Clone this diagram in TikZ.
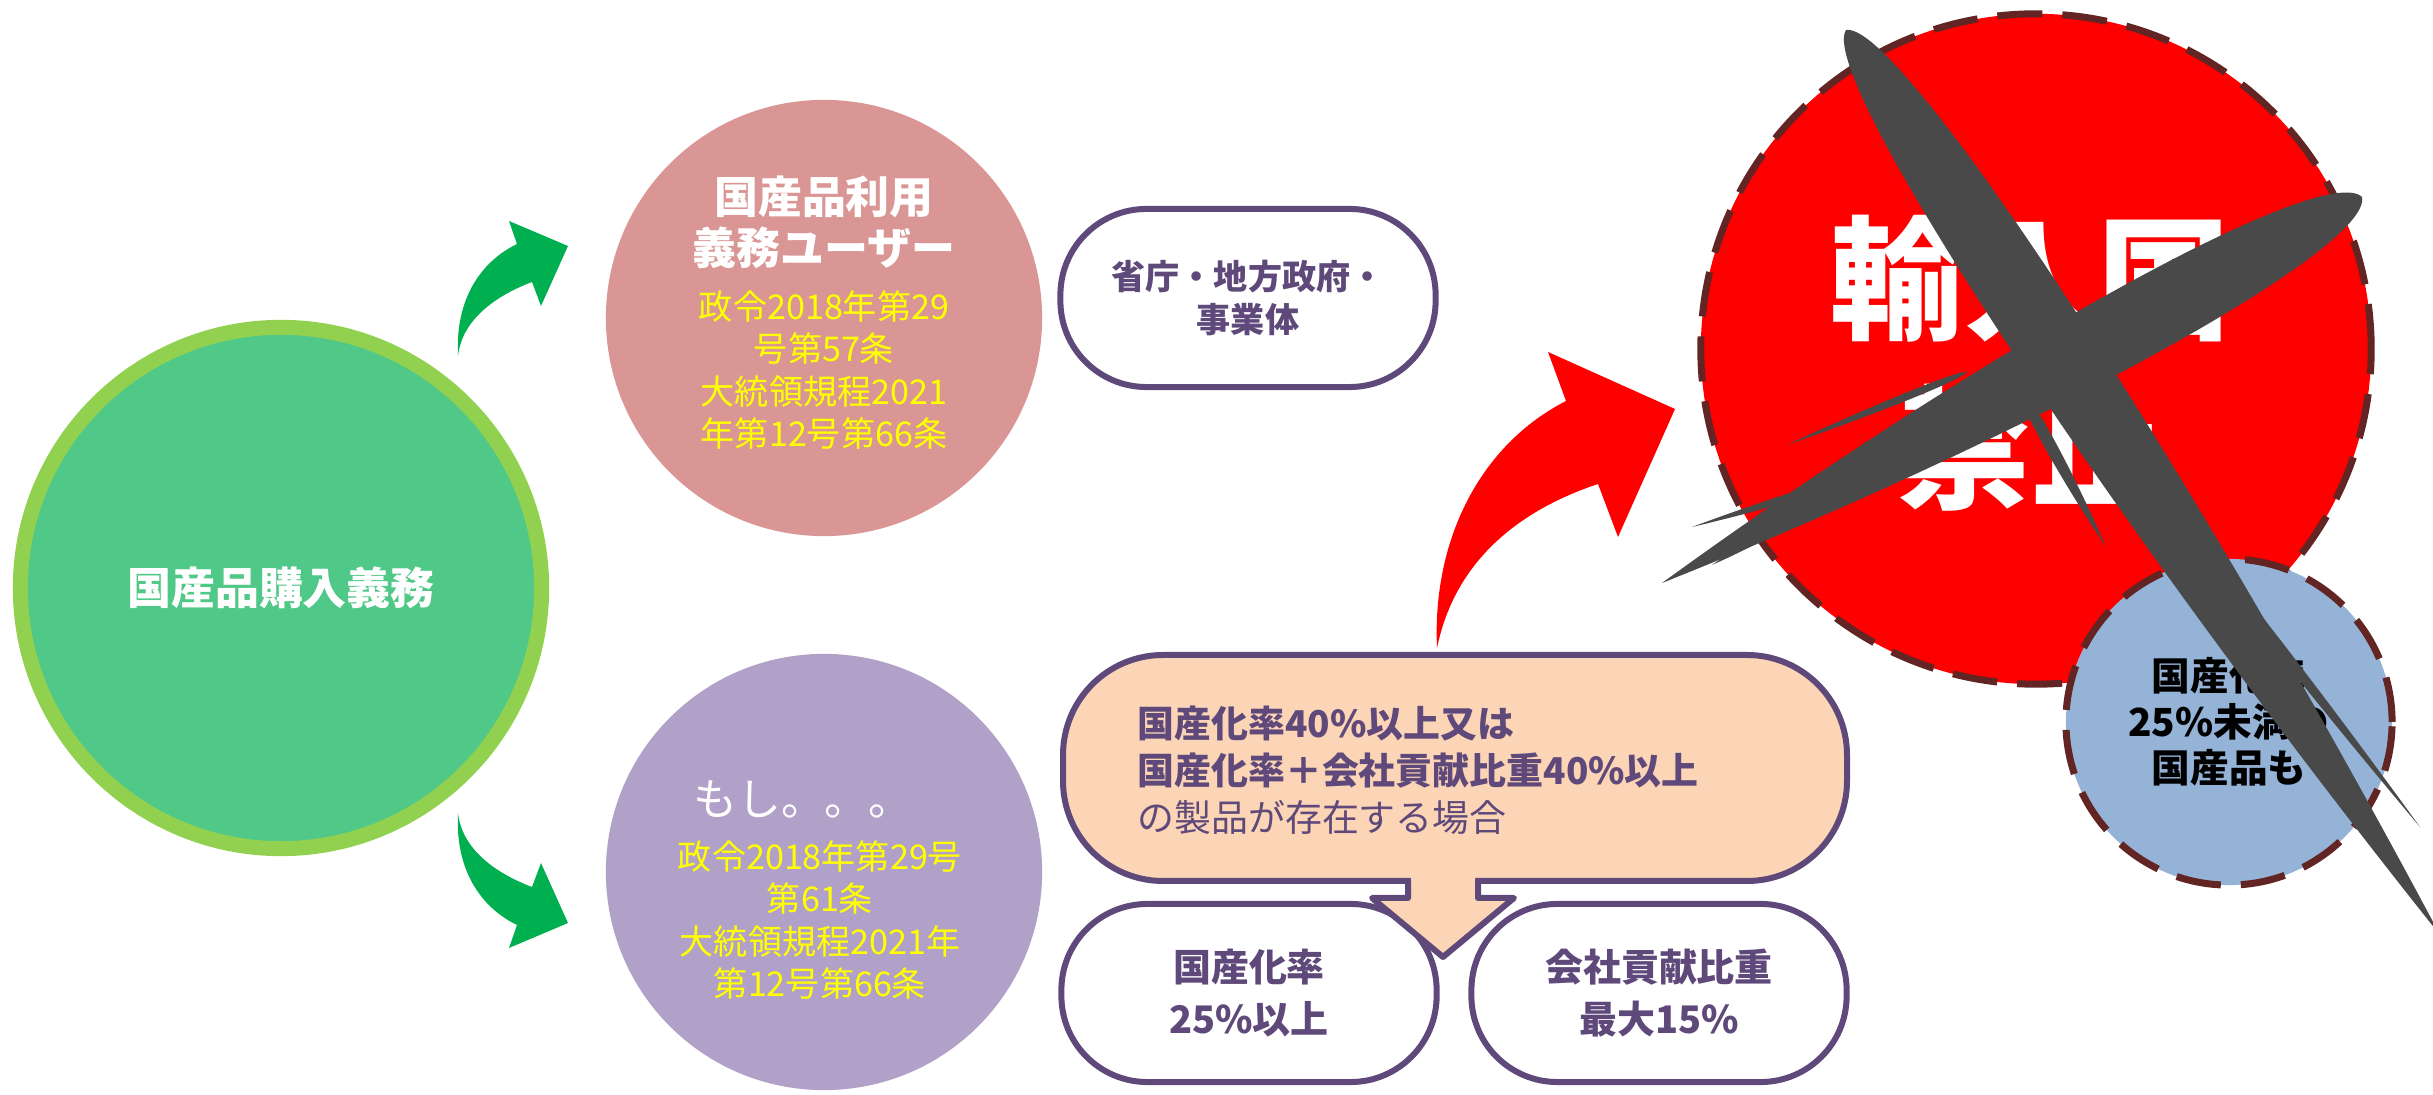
\documentclass[tikz,border=0pt]{standalone}
\usepackage{fontspec}
\setmainfont{Noto Sans CJK JP}
\usetikzlibrary{calc}
\definecolor{greenfill}{RGB}{80,200,135}
\definecolor{greenring}{RGB}{146,208,80}
\definecolor{greenarr}{RGB}{0,176,80}
\definecolor{pinkc}{RGB}{217,150,148}
\definecolor{purplec}{RGB}{177,160,199}
\definecolor{yel}{RGB}{255,255,0}
\definecolor{boxline}{RGB}{95,73,122}
\definecolor{peach}{RGB}{251,213,181}
\definecolor{redc}{RGB}{255,0,0}
\definecolor{darkred}{RGB}{99,37,35}
\definecolor{bluec}{RGB}{149,179,215}
\definecolor{xgray}{RGB}{73,73,73}
\begin{document}
\begin{tikzpicture}[x=0.01cm,y=-0.01cm,line join=round,line cap=round,
	circ/.style={circle,inner sep=0pt,minimum size=#1},
	ring/.style={circle,draw=darkred,line width=0.07cm,line cap=butt,dash pattern=on 0.45cm off 0.2cm,inner sep=0pt,minimum size=#1},
	pill/.style={draw=boxline,line width=0.06cm,fill=white,rounded corners=0.86cm,minimum width=3.75cm,minimum height=1.78cm,inner sep=0pt,text=boxline,align=center,font=\bfseries\fontsize{10.8}{14.8}\selectfont},
	ttl/.style={text=white,align=center,font=\bfseries\fontsize{12.5}{14.5}\selectfont},
	law/.style={text=yel,align=center,font=\fontsize{9.7}{12}\selectfont}]
	\def\brush#1#2#3{\fill[xgray] (#1) .. controls ($(#1)!0.02!(#2)!#3!90:(#2)$) and ($(#1)!0.5!(#2)!#3!90:(#2)$) .. (#2) .. controls ($(#1)!0.5!(#2)!#3!-90:(#2)$) and ($(#1)!0.02!(#2)!#3!-90:(#2)$) .. (#1) -- cycle;}
	\useasboundingbox (0,0) rectangle (2433,1095);
	\node[circ=5.21cm,fill=greenfill,draw=greenring,line width=0.15cm,ttl] (duty) at (281,588) {国産品購入義務};
	\fill[greenarr] (458,356) .. controls (455,300) and (480,262) .. (517,244) -- (509,221) -- (568,246) -- (541,306) -- (532,282) .. controls (495,296) and (462,320) .. (458,356) -- cycle;
	\fill[greenarr] (458,813) .. controls (455,869) and (480,907) .. (517,925) -- (509,948) -- (568,923) -- (541,863) -- (532,887) .. controls (495,873) and (462,849) .. (458,813) -- cycle;
	\node[circ=4.36cm,fill=pinkc] (user) at (824,318) {};
	\node[ttl] (userT) at (824,222) {国産品利用\\義務ユーザー};
	\node[law] (userL) at (824,370) {政令2018年第29\\号第57条\\大統領規程2021\\年第12号第66条};
	\node[circ=4.36cm,fill=purplec] (ifc) at (824,872) {};
	\node[text=white,font=\fontsize{12.5}{14.5}\selectfont] (ifT) at (803,799) {もし。。。};
	\node[law] (ifL) at (820,920) {政令2018年第29号\\第61条\\大統領規程2021年\\第12号第66条};
	\node[pill,font=\bfseries\fontsize{9.7}{12}\selectfont] (gov) at (1248,298) {省庁・地方政府・\\事業体};
	\node[pill] (rate) at (1249,993) {国産化率\\25\%以上};
	\node[pill] (share) at (1659,993) {会社貢献比重\\最大15\%};
	% callout
	\draw[boxline,line width=0.06cm,fill=peach,rounded corners=1cm] (1063,655) rectangle (1847,881);
	\fill[peach] (1411,875) -- (1475,875) -- (1475,898) -- (1510,898) -- (1443,954) -- (1376,898) -- (1411,898) -- cycle;
	\draw[boxline,line width=0.06cm,line cap=butt] (1408,881) -- (1408,898) -- (1372,898) -- (1443,957) -- (1514,898) -- (1478,898) -- (1478,881);
	\node[anchor=west,text=boxline,align=left,font=\fontsize{10.5}{13.4}\selectfont] (cond) at (1125,770) {\textbf{国産化率40\%以上又は}\\\textbf{国産化率＋会社貢献比重40\%以上}\\の製品が存在する場合};
	\fill[redc] (1437,648) .. controls (1432,540) and (1480,445) .. (1566,401) -- (1548,352) -- (1675,409) -- (1618,537) -- (1598,484) .. controls (1520,510) and (1455,560) .. (1437,648) -- cycle;
	\node[ring=6.70cm,fill=redc] (ban) at (2036,349) {};
	\node[text=white,align=center,font=\bfseries\fontsize{38}{48}\selectfont] (banT) at (2031,363) {輸入国\\禁止};
	\node[ring=3.26cm,fill=bluec,align=center,font=\bfseries\fontsize{11}{13}\selectfont] (low) at (2229,722) {国産化率\\25\%未満の\\国産品も};
	% cross
	\brush{1846,30}{2440,935}{0.5cm}
	\brush{2150,520}{2383,845}{0.07cm}
	\brush{2180,520}{2420,827}{0.07cm}
	\brush{2020,390}{2106,547}{0.08cm}
	\brush{2362,197}{1662,583}{0.5cm}
	\brush{1967,372}{1787,445}{0.05cm}
	\brush{1880,470}{1692,527}{0.06cm}
	\brush{1800,515}{1712,565}{0.05cm}
\end{tikzpicture}
\end{document}
